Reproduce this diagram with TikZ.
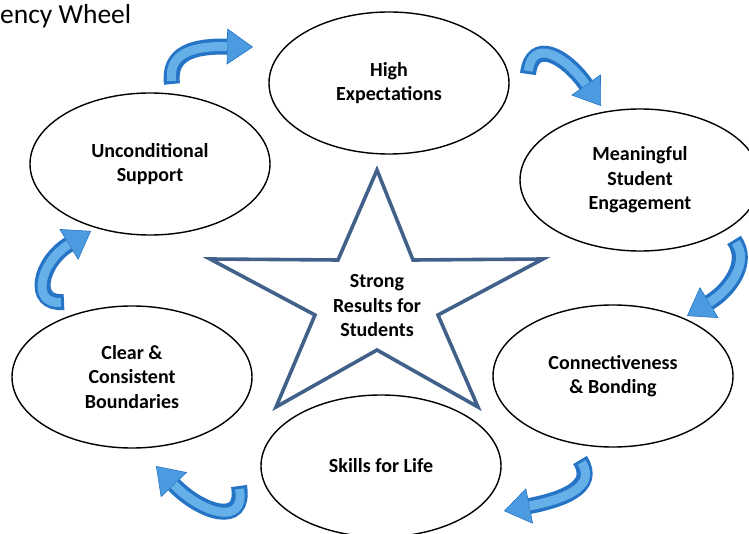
\documentclass[tikz,border=0pt]{standalone}
\usepackage{fontspec}
\setmainfont{Carlito}
\usetikzlibrary{shapes.geometric}
\usetikzlibrary{arrows.meta}
\usetikzlibrary{positioning}
\definecolor{starblue}{HTML}{41618A}
\definecolor{arrowdark}{HTML}{2574C6}
\definecolor{arrowmid}{HTML}{4C9BE0}
\definecolor{arrowlight}{HTML}{66B0E9}
\tikzset{
  wheel/.style={ellipse,draw,line width=1.4pt,minimum width=240pt,minimum height=142pt,
    inner sep=0pt,align=center,font=\bfseries\fontsize{20}{24.5}\selectfont},
  flow/.style={line width=16pt,draw=arrowdark,
    -{Triangle[width=36pt,length=26pt,fill=arrowmid,line width=0.6pt]}},
  flowhi/.style={line width=9pt,draw=arrowlight,shorten >=26pt,shorten <=3pt}
}

\begin{document}
\begin{tikzpicture}[x=1pt,y=-1pt]
    \useasboundingbox (0,0) rectangle (749,534);
    \node[anchor=base west,inner sep=0pt,font=\fontsize{27.5}{30}\selectfont] (title) at (0,24) {ency Wheel};

    \node[wheel] (high) at (389,83) {High\\Expectations};
    \node[wheel] (meaning) at (640,180) {Meaningful\\Student\\Engagement};
    \node[wheel] (connect) at (613,376) {Connectiveness\\\& Bonding};
    \node[wheel] (skills) at (381,466) {Skills for Life};
    \node[wheel] (clear) at (132,377) {Clear \&\\Consistent\\Boundaries};
    \node[wheel] (uncond) at (150,164) {Unconditional\\Support};

    \draw[starblue,line width=3.6pt,line join=miter]
      (377,170) -- (413,260) -- (543,259) -- (438,315) -- (478,407) -- (377,350)
      -- (276,407) -- (315,315) -- (210,259) -- (338,260) -- cycle;
    \node[align=center,font=\bfseries\fontsize{20}{24.5}\selectfont] (results) at (377,306)
      {Strong\\Results for\\Students};

    \coordinate (a1s) at (172,84);
    \coordinate (a1e) at (253,47);
    \coordinate (a2s) at (528,74);
    \coordinate (a2e) at (601,106);
    \coordinate (a3s) at (734,240);
    \coordinate (a3e) at (687,316);
    \coordinate (a4s) at (580,460);
    \coordinate (a4e) at (504,511);
    \coordinate (a5s) at (239,486);
    \coordinate (a5e) at (156,466);
    \coordinate (a6s) at (64,302);
    \coordinate (a6e) at (91,231);

    \draw[flow] (a1s) .. controls (168,52) and (195,46) .. (a1e);
    \draw[flowhi] (a1s) .. controls (168,52) and (195,46) .. (a1e);
    \draw[flow] (a2s) .. controls (532,38) and (565,55) .. (a2e);
    \draw[flowhi] (a2s) .. controls (532,38) and (565,55) .. (a2e);
    \draw[flow] (a3s) .. controls (750,262) and (730,290) .. (a3e);
    \draw[flowhi] (a3s) .. controls (750,262) and (730,290) .. (a3e);
    \draw[flow] (a4s) .. controls (598,488) and (560,500) .. (a4e);
    \draw[flowhi] (a4s) .. controls (598,488) and (560,500) .. (a4e);
    \draw[flow] (a5s) .. controls (246,528) and (200,512) .. (a5e);
    \draw[flowhi] (a5s) .. controls (246,528) and (200,512) .. (a5e);
    \draw[flow] (a6s) .. controls (30,305) and (40,262) .. (a6e);
    \draw[flowhi] (a6s) .. controls (30,305) and (40,262) .. (a6e);
\end{tikzpicture}
\end{document}
